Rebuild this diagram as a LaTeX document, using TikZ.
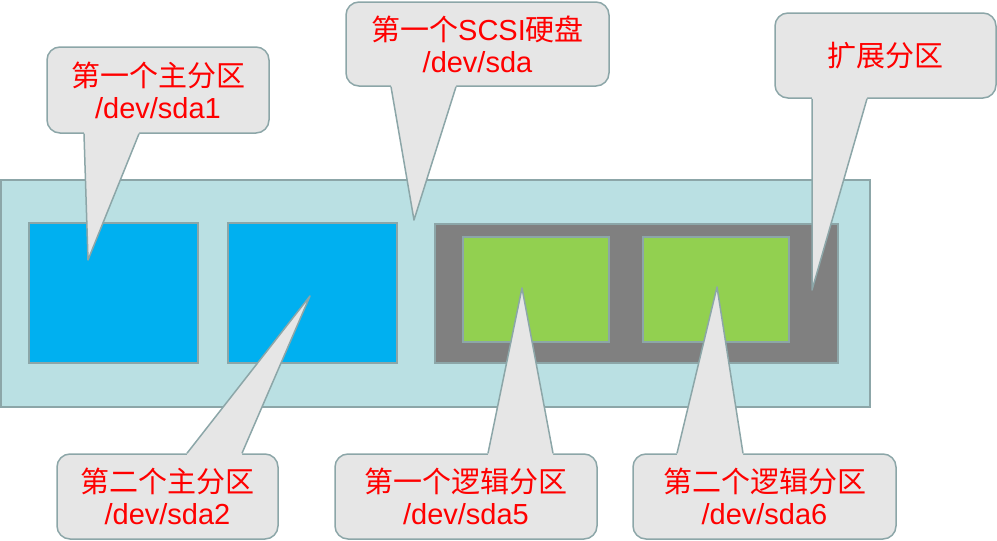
\documentclass[tikz,border=0pt]{standalone}
\usepackage{fontspec}
\setmainfont{Liberation Sans}
\newfontfamily\cjk{Noto Sans CJK SC}
\usepackage{tikz}
\usetikzlibrary{calc, fit}
\definecolor{edgecolor}{RGB}{140,166,168}
\definecolor{diskfill}{RGB}{186,224,227}
\definecolor{primaryfill}{RGB}{0,176,240}
\definecolor{extfill}{RGB}{128,128,128}
\definecolor{logicfill}{RGB}{146,208,80}
\definecolor{bubblefill}{RGB}{230,230,230}
\tikzset{
	part/.style={draw=edgecolor, line width=1.5pt, inner sep=0pt},
	bubble/.style={draw=edgecolor, fill=bubblefill, line width=1.5pt, rounded corners=13pt,
		inner sep=0pt, minimum height=85pt, text=red, align=center, font=\fontsize{29}{32}\selectfont},
	tipline/.style={draw=edgecolor, line width=1.5pt, line join=round}
}

\begin{document}
\begin{tikzpicture}[x=1pt, y=-1pt]
\useasboundingbox (0,0) rectangle (997,541);
\node[part, fill=diskfill, fit={(1,180) (870,407)}] (sda) {};
\node[part, fill=primaryfill, fit={(29,223) (198,363)}] (sda1) {};
\node[part, fill=primaryfill, fit={(228,223) (397,363)}] (sda2) {};
\node[part, fill=extfill, fit={(435,224) (838,363)}] (ext) {};
\node[part, fill=logicfill, fit={(463,237) (609,342)}] (sda5) {};
\node[part, fill=logicfill, fit={(643,237) (789,342)}] (sda6) {};
\coordinate (t1) at (88,260);
\coordinate (t0) at (414,220);
\coordinate (tx) at (812,290);
\coordinate (t2) at (310,296);
\coordinate (t5) at (522,288);
\coordinate (t6) at (717,287);
\node[bubble, minimum width=222pt, minimum height=86pt] (b1) at (158,90) {{\cjk 第一个主分区}\\/dev/sda1};
\node[bubble, minimum width=263pt, minimum height=84pt] (b0) at (477.5,44) {{\cjk 第一个}SCSI{\cjk 硬盘}\\/dev/sda};
\node[bubble, minimum width=221pt] (bx) at (885.5,55.5) {{\cjk 扩展分区}};
\node[bubble, minimum width=221pt] (b2) at (167.5,496.5) {{\cjk 第二个主分区}\\/dev/sda2};
\node[bubble, minimum width=262pt] (b5) at (466,496.5) {{\cjk 第一个逻辑分区}\\/dev/sda5};
\node[bubble, minimum width=263pt] (b6) at (764.5,496.5) {{\cjk 第二个逻辑分区}\\/dev/sda6};
\foreach \bb/\side/\lx/\rx/\tp/\sh in {b1/south/84/139/t1/-2, b0/south/391/456/t0/-2,
	bx/south/812/867/tx/-2, b2/north/187/242/t2/2, b5/north/488/553/t5/2, b6/north/677/743/t6/2}{
	\fill[bubblefill] ($(\bb.\side -| \lx,0)+(0,\sh)$) -- (\bb.\side -| \lx,0) -- (\tp)
		-- (\bb.\side -| \rx,0) -- ($(\bb.\side -| \rx,0)+(0,\sh)$) -- cycle;
	\draw[tipline] (\bb.\side -| \lx,0) -- (\tp) -- (\bb.\side -| \rx,0);
	}
\end{tikzpicture}
\end{document}
